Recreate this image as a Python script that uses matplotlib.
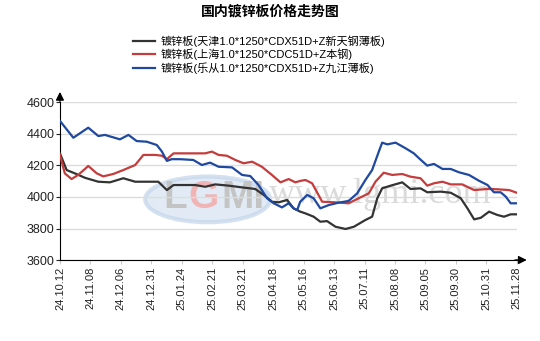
import numpy as np
import matplotlib.pyplot as plt
from matplotlib.patches import Ellipse

plt.rcParams['font.family'] = ['Liberation Sans', 'Noto Sans CJK SC', 'DejaVu Sans']

# x positions are in tick-label units (0 = 24.10.12, 15 = 25.11.28)
tick_labels = ['24.10.12', '24.11.08', '24.12.06', '24.12.31', '25.01.24', '25.02.21',
               '25.03.21', '25.04.18', '25.05.16', '25.06.13', '25.07.11', '25.08.08',
               '25.09.05', '25.09.30', '25.10.31', '25.11.28']

tj_x = [0, 0.22, 0.49, 0.82, 1.26, 1.64, 2.08, 2.47, 3.23, 3.51, 3.73, 3.95,
        4.44, 4.77, 5.10, 5.54, 5.98, 6.41, 6.69, 6.96, 7.18, 7.46, 7.67, 7.89,
        8.06, 8.33, 8.55, 8.77, 9.05, 9.38, 9.65, 10.03, 10.25, 10.42, 10.58,
        10.86, 11.24, 11.51, 11.84, 12.06, 12.50, 12.83, 13.16, 13.38, 13.60,
        13.82, 14.09, 14.36, 14.58, 14.80, 15.0]
tj_y = [4277, 4171, 4150, 4122, 4097, 4093, 4119, 4097, 4097, 4044, 4076, 4076,
        4076, 4065, 4080, 4072, 4061, 4051, 4013, 3970, 3966, 3981, 3928, 3907,
        3896, 3875, 3843, 3847, 3811, 3797, 3811, 3854, 3875, 3992, 4055,
        4072, 4093, 4051, 4055, 4030, 4034, 4027, 3992, 3928, 3858,
        3868, 3907, 3886, 3875, 3890, 3890]

sh_x = [0, 0.16, 0.38, 0.60, 0.93, 1.21, 1.42, 1.75, 2.08, 2.47, 2.74, 3.13,
        3.35, 3.51, 3.73, 3.95, 4.77, 4.99, 5.21, 5.48, 5.76, 6.03, 6.31, 6.63,
        6.96, 7.24, 7.51, 7.73, 7.89, 8.06, 8.28, 8.61, 9.05, 9.48, 9.81,
        10.14, 10.36, 10.63, 10.91, 11.24, 11.51, 11.84, 12.06, 12.28, 12.56,
        12.83, 13.21, 13.60, 14.04, 14.36, 14.75, 15.0]
sh_y = [4267, 4150, 4114, 4140, 4197, 4150, 4131, 4146, 4171, 4203, 4267, 4267,
        4262, 4240, 4277, 4277, 4277, 4288, 4267, 4262, 4235, 4214, 4224, 4192,
        4140, 4093, 4114, 4093, 4102, 4108, 4087, 3970, 3966, 3960, 3992,
        4023, 4097, 4154, 4140, 4146, 4129, 4119, 4072, 4087, 4097,
        4080, 4080, 4044, 4051, 4049, 4044, 4027]

ly_x = [0, 0.44, 0.93, 1.26, 1.48, 1.97, 2.25, 2.52, 2.85, 3.18, 3.35, 3.51,
        3.67, 3.95, 4.38, 4.66, 4.93, 5.21, 5.65, 5.98, 6.25, 6.52, 6.80, 7.02,
        7.29, 7.51, 7.67, 7.79, 7.89, 8.12, 8.33, 8.55, 8.83, 9.15, 9.48,
        9.76, 10.03, 10.25, 10.47, 10.58, 10.75, 11.02, 11.35, 11.62, 11.79,
        12.06, 12.28, 12.56, 12.83, 13.10, 13.43, 13.77, 14.04, 14.25, 14.47,
        14.64, 14.80, 15.0]
ly_y = [4483, 4376, 4440, 4387, 4394, 4366, 4394, 4355, 4351, 4330, 4288, 4229,
        4240, 4240, 4235, 4203, 4218, 4192, 4188, 4140, 4133, 4076, 3992, 3960,
        3934, 3960, 3928, 3917, 3970, 4013, 3992, 3928, 3949, 3964, 3975,
        4023, 4108, 4171, 4288, 4345, 4334, 4345, 4309, 4277, 4246,
        4199, 4210, 4178, 4178, 4157, 4140, 4102, 4076, 4030, 4030,
        4002, 3960, 3960]

names = ['镀锌板(天津1.0*1250*CDX51D+Z新天钢薄板)',
         '镀锌板(上海1.0*1250*CDC51D+Z本钢)',
         '镀锌板(乐从1.0*1250*CDX51D+Z九江薄板)']
colors = ['#333333', '#c43c3c', '#1f48a0']

fig = plt.figure(figsize=(5.4, 3.41), dpi=100)
ax = fig.add_axes([0.111, 0.2375, 0.846, 0.462])

# faint site watermark
ax.add_patch(Ellipse((4.85, 3985), 4.1, 290, facecolor='#d7e3f1', edgecolor='#c3d5ea',
                     lw=3, alpha=0.7, zorder=0))
ax.text(3.8, 3995, 'L', ha='center', va='center', fontsize=28, fontweight='bold',
        color='#c4c4c4', zorder=0)
ax.text(4.7, 3995, 'G', ha='center', va='center', fontsize=28, fontweight='bold',
        color='#f0b4b4', zorder=0)
ax.text(6.0, 3995, 'MI', ha='center', va='center', fontsize=28, fontweight='bold',
        color='#c4c4c4', zorder=0)
ax.text(10.5, 4015, 'www.lgmi.com', ha='center', va='center', fontsize=26,
        family='Liberation Serif', color='#dadada', zorder=0)

for xs, ys, name, c in [(tj_x, tj_y, names[0], colors[0]),
                        (sh_x, sh_y, names[1], colors[1]),
                        (ly_x, ly_y, names[2], colors[2])]:
    ax.plot(xs, ys, color=c, lw=1.6, label=name, solid_joinstyle='round', zorder=3)

ax.set_xlim(0, 15)
ax.set_ylim(3600, 4600)
ax.set_yticks([3600, 3800, 4000, 4200, 4400, 4600])
ax.set_xticks(range(len(tick_labels)))
ax.set_xticklabels(tick_labels, rotation=90, fontsize=8, color='#222222')
ax.tick_params(axis='y', labelsize=9, length=3, pad=1, colors='#222222')
ax.tick_params(axis='x', length=3, pad=2, color='#cccccc')
ax.yaxis.grid(True, color='#dcdcdc', lw=1)
ax.set_axisbelow(True)
for s in ['top', 'right']:
    ax.spines[s].set_visible(False)
ax.spines['left'].set_color('black')
ax.spines['bottom'].set_color('black')

# arrow heads on both axes
ax.annotate('', xy=(1.028, 0), xytext=(0.99, 0), xycoords='axes fraction',
            arrowprops=dict(arrowstyle='-|>', color='black', lw=1, mutation_scale=12))
ax.annotate('', xy=(0, 1.085), xytext=(0, 0.99), xycoords='axes fraction',
            arrowprops=dict(arrowstyle='-|>', color='black', lw=1, mutation_scale=12))

fig.text(0.5, 0.965, '国内镀锌板价格走势图', ha='center', va='center',
         fontsize=10, fontweight='bold', family=['Noto Sans CJK SC'])
fig.legend(loc='center', bbox_to_anchor=(0.48, 0.84), frameon=False, fontsize=8,
           handlelength=1.9, handletextpad=0.5, labelspacing=0.15, borderpad=0)

fig.savefig('out.png', dpi=100)
